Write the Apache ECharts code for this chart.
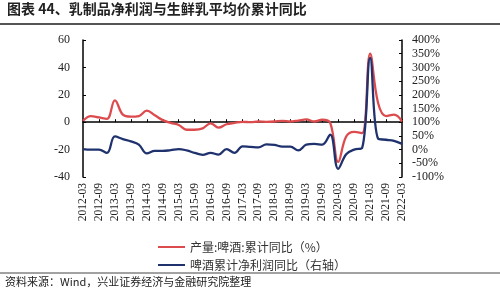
<!DOCTYPE html>
<html><head><meta charset="utf-8">
<script src="https://cdn.jsdelivr.net/npm/echarts@6/dist/echarts.min.js"></script>
<style>html,body{margin:0;padding:0;background:#fff}#c{width:500px;height:293px}</style>
</head><body><div id="c"></div>
<script>
// quarterly categories 2012-03 .. 2022-03
const categories = ["2012-03","2012-06","2012-09","2012-12","2013-03","2013-06","2013-09","2013-12","2014-03","2014-06","2014-09","2014-12","2015-03","2015-06","2015-09","2015-12","2016-03","2016-06","2016-09","2016-12","2017-03","2017-06","2017-09","2017-12","2018-03","2018-06","2018-09","2018-12","2019-03","2019-06","2019-09","2019-12","2020-03","2020-06","2020-09","2020-12","2021-03","2021-06","2021-09","2021-12","2022-03"];
// 产量:啤酒:累计同比 (%) — left axis
const beerOutput = [1,4.5,3.5,2.5,16,5.5,4,4.5,8.4,5,1.5,-0.5,-2,-5.5,-5.5,-4.5,-0.8,-4,-1.5,-0.5,0.3,0,0.5,0.3,0.5,1,0.5,1.2,2,0.5,1.8,-0.5,-29,-10.5,-7,-8,50,14,4.5,5.5,0.5];
// 啤酒累计净利润同比 (%) — right axis
const beerProfit = [2,0,0,-12,48,38,30,18,-14,-5,-5,-2,2,-3,-12,-19,-12,-18,2,-12,12,10,8,19,17,11,11,-3,18,21,18,55,-70,-17,0,6,335,40,36,32,21];
const leftTicks = {min:-40,max:60,interval:20};
const rightTicks = {min:-100,max:400,interval:50};

const chart = echarts.init(document.getElementById('c'));
const serif = '"Liberation Serif","Times New Roman",serif';
const cjk = '"Noto Sans CJK SC",sans-serif';
chart.setOption({
  animation:false,
  backgroundColor:'#fff',
  grid:{left:83,right:98,top:40,bottom:116},
  graphic:[
    {type:'text',left:7,top:2,style:{text:'图表 44、乳制品净利润与生鲜乳平均价累计同比',font:'bold 14px '+cjk,fill:'#222'}},
    {type:'line',shape:{x1:0,y1:24,x2:500,y2:24},style:{stroke:'#555',lineWidth:2}},
    {type:'line',shape:{x1:0,y1:273,x2:500,y2:273},style:{stroke:'#444',lineWidth:1}},
    {type:'text',left:5,top:276,style:{text:'资料来源：Wind，兴业证券经济与金融研究院整理',font:'11px '+cjk,fill:'#222'}}
  ],
  legend:{orient:'vertical',left:153,top:236,itemGap:6,itemWidth:27,itemHeight:2,icon:'rect',
    textStyle:{fontFamily:cjk,fontSize:12,color:'#333'},
    data:['产量:啤酒:累计同比（%）','啤酒累计净利润同比（右轴）']},
  xAxis:[
    {type:'category',data:categories,boundaryGap:false,
     axisLine:{onZero:true,lineStyle:{color:'#000',width:1.5}},
     axisTick:{inside:true,length:3,interval:1,lineStyle:{color:'#000'}},
     axisLabel:{show:false},splitLine:{show:false}},
    {type:'category',data:categories,boundaryGap:false,position:'bottom',
     axisLine:{show:false,onZero:false},axisTick:{show:false},
     axisLabel:{rotate:90,interval:1,margin:6,fontFamily:serif,fontSize:11.5,color:'#222'},splitLine:{show:false}}
  ],
  yAxis:[
    {type:'value',min:leftTicks.min,max:leftTicks.max,interval:leftTicks.interval,
     axisLine:{show:true,lineStyle:{color:'#000',width:1.5}},
     axisTick:{show:true,inside:true,length:3,lineStyle:{color:'#000'}},
     axisLabel:{margin:13,fontFamily:serif,fontSize:12,color:'#222'},splitLine:{show:false}},
    {type:'value',position:'right',min:rightTicks.min,max:rightTicks.max,interval:rightTicks.interval,
     axisLine:{show:true,lineStyle:{color:'#000',width:1.5}},
     axisTick:{show:true,inside:true,length:3,lineStyle:{color:'#000'}},
     axisLabel:{margin:10,formatter:'{value}%',fontFamily:serif,fontSize:12,color:'#222'},splitLine:{show:false}}
  ],
  series:[
    {name:'产量:啤酒:累计同比（%）',type:'line',xAxisIndex:0,yAxisIndex:0,data:beerOutput,smooth:0.4,showSymbol:false,
     lineStyle:{color:'#DC4B4E',width:2.3},itemStyle:{color:'#DC4B4E'}},
    {name:'啤酒累计净利润同比（右轴）',type:'line',xAxisIndex:0,yAxisIndex:1,data:beerProfit,smooth:0.4,showSymbol:false,
     lineStyle:{color:'#1F326E',width:2.3},itemStyle:{color:'#1F326E'}}
  ]
});
</script></body></html>
